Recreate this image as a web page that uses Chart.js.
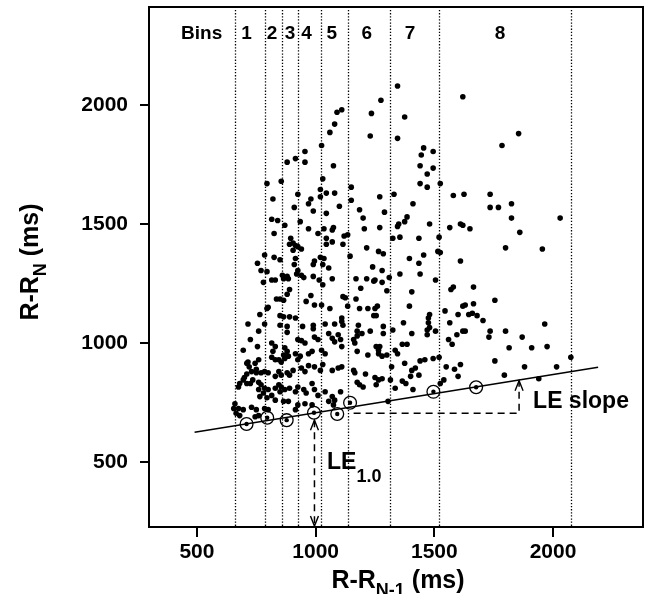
<!DOCTYPE html>
<html>
<head>
<meta charset="utf-8">
<script src="https://cdn.jsdelivr.net/npm/chart.js@4.4.0/dist/chart.umd.min.js"></script>
<style>
  html, body { margin: 0; padding: 0; background: #fff; }
</style>
</head>
<body>
<canvas id="chart_rr" width="645" height="594"></canvas>
<script>
// R-R(N-1) vs R-R(N), in ms
const beatPairs = [
  [1090,1970],[1110,1980],[1080,1920],[1060,1885],[1025,1830],[955,1805],[915,1775],[880,1760],[955,1760],[1075,1745],
  [1030,1690],[795,1670],[855,1680],[1020,1645],[1045,1630],[1080,1630],[925,1625],[1020,1615],[820,1605],[980,1605],
  [1150,1655],[1345,2080],[1275,2020],[1235,1965],[1375,1950],[1620,2035],[1230,1870],[1345,1860],[1855,1880],[1785,1830],
  [1455,1820],[1495,1805],[1445,1790],[1440,1745],[1495,1735],[1470,1710],[1440,1670],[1470,1655],[1525,1670],[1270,1615],
  [1330,1625],[1580,1620],[1625,1625],[1735,1625],[1150,1600],[970,1585],[1100,1575],[910,1570],[990,1555],[1045,1545],
  [1185,1560],[1290,1550],[815,1520],[840,1515],[935,1510],[870,1495],[825,1460],[970,1480],[1035,1480],[1070,1475],
  [1075,1485],[1200,1525],[1205,1480],[1270,1485],[1345,1490],[1010,1460],[1135,1455],[1120,1450],[1045,1440],[895,1440],
  [1045,1415],[1070,1425],[1115,1415],[1215,1400],[1325,1440],[1355,1445],[890,1415],[905,1420],[915,1410],[925,1405],
  [940,1395],[905,1390],[785,1370],[825,1360],[850,1350],[915,1355],[1020,1360],[1035,1355],[1145,1365],[1265,1385],
  [1285,1375],[755,1335],[910,1330],[990,1330],[995,1345],[1030,1330],[1055,1315],[1240,1320],[1280,1305],[770,1305],
  [795,1300],[925,1305],[920,1290],[940,1285],[950,1275],[990,1280],[860,1285],[880,1280],[885,1270],[865,1270],
  [815,1265],[830,1265],[1070,1270],[1015,1265],[1170,1270],[1215,1270],[1250,1265],[1310,1275],[1355,1290],[1410,1585],
  [1735,1570],[1770,1570],[1825,1585],[1825,1525],[2030,1525],[1385,1530],[1375,1510],[1350,1500],[1480,1500],[1565,1485],
  [1610,1500],[1620,1495],[1650,1480],[1860,1465],[1435,1440],[1520,1445],[1800,1400],[1955,1395],[1395,1355],[1435,1335],
  [1455,1370],[1515,1385],[1525,1380],[1610,1345],[1440,1290],[1505,1265],[1245,1260],[1280,1255],[1190,1230],[1300,1220],
  [1405,1215],[1580,1235],[1570,1225],[1665,1235],[1170,1185],[1395,1155],[1185,1145],[1220,1145],[1250,1145],[1260,1155],
  [1245,1115],[1255,1115],[1480,1120],[1475,1105],[1545,1135],[1600,1120],[1620,1155],[1630,1160],[1645,1120],[1665,1165],
  [1755,1180],[1660,1125],[1680,1115],[1705,1095],[890,1225],[880,1205],[980,1200],[850,1185],[835,1185],[865,1180],
  [960,1175],[995,1160],[1025,1160],[1060,1145],[800,1150],[795,1145],[765,1120],[850,1115],[865,1110],[890,1110],
  [915,1105],[1115,1195],[1125,1190],[1135,1155],[1110,1105],[1030,1245],[780,1255],[715,1080],[785,1080],[850,1075],
  [880,1070],[945,1070],[990,1075],[990,1060],[1040,1080],[1080,1080],[1115,1075],[1110,1090],[760,1050],[725,1015],
  [880,1045],[940,1010],[955,1000],[925,1015],[995,1025],[1010,1015],[1055,1040],[1070,1020],[1080,1005],[1095,1035],
  [1105,1015],[815,1000],[830,985],[820,965],[755,985],[695,970],[870,980],[880,965],[865,950],[915,955],
  [935,945],[925,930],[970,955],[985,965],[1025,970],[1040,955],[1110,985],[815,940],[830,930],[845,930],
  [855,920],[870,935],[885,945],[715,920],[745,915],[750,890],[730,880],[710,870],[700,855],[770,875],
  [785,880],[800,875],[830,860],[845,880],[855,865],[880,875],[890,865],[905,885],[940,895],[955,880],
  [970,905],[995,900],[1020,885],[1030,910],[1070,885],[1095,895],[1110,900],[725,830],[680,830],[675,815],
  [760,835],[770,825],[785,810],[800,805],[760,805],[780,790],[765,775],[795,770],[815,780],[830,760],
  [845,825],[855,815],[870,805],[850,795],[830,810],[890,810],[915,795],[925,815],[950,805],[960,790],
  [985,830],[995,805],[1010,780],[1040,795],[1070,775],[1080,760],[1105,795],[660,745],[675,725],[695,720],
  [665,705],[730,730],[750,720],[760,695],[745,690],[865,755],[885,755],[915,720],[925,740],[955,745],
  [985,740],[1055,755],[1075,740],[785,725],[800,720],[655,725],[680,695],[710,915],[720,900],[760,930],
  [750,875],[735,845],[695,845],[710,830],[1165,1000],[1175,965],[1220,950],[1175,1030],[1160,1015],[1180,1075],
  [1175,1050],[1195,1040],[1230,1050],[1285,1070],[1285,1040],[1255,985],[1270,985],[1265,970],[1265,955],[1280,945],
  [1300,950],[1335,970],[1345,955],[1365,995],[1385,995],[1325,1055],[1370,1085],[1405,1040],[1475,1085],[1480,1065],
  [1470,1055],[1470,1035],[1505,1050],[1565,1085],[1560,1015],[1575,995],[1595,1035],[1620,1050],[1630,1050],[1160,885],
  [1165,875],[1175,835],[1185,825],[1200,815],[1210,870],[1250,855],[1265,845],[1280,850],[1255,825],[1320,900],
  [1315,845],[1335,810],[1375,915],[1405,885],[1420,895],[1365,840],[1380,830],[1400,860],[1435,865],[1410,805],
  [1440,925],[1460,930],[1495,935],[1520,940],[1550,900],[1585,890],[1610,910],[1600,860],[1540,845],[1525,830],
  [1305,755],[1735,1050],[1730,1025],[1800,1050],[1870,1025],[1965,1080],[1815,980],[1910,980],[1975,985],[1755,925],
  [2075,940],[1795,865],[1880,900],[2015,900],[1940,850]
];

// lower envelope points, one per bin
const leX = [709, 796, 878, 993, 1091, 1145, 1496, 1676];
const leY = [660, 686, 676, 707, 702, 749, 795, 814];

// fitted LE line
const fitX = [490, 2190];
const fitY = [625, 898];

const binEdges = [661, 787, 857, 926, 1021, 1138, 1315, 1519, 2075];
const binLabels = ["Bins", "1", "2", "3", "4", "5", "6", "7", "8"];
const binLabelX = [520, 709, 816, 892, 962, 1068, 1215, 1398, 1777];
const binLabelY = 2300;

const axisTicks = [500, 1000, 1500, 2000];
const xRange = [298, 2379];
const yRange = [227, 2412];

// LE1.0 marker and LE slope marker
const le10X = 995;
const le10Top = 676;
const slopeX = 1857;
const slopeBase = 705;
const slopeTop = 842;
const slopeDashFrom = 1160;

const FONT = '"Liberation Sans", Arial, sans-serif';

function richWidth(ctx, parts) {
  let w = 0;
  parts.forEach(function (p) {
    ctx.font = 'bold ' + p[1] + 'px ' + FONT;
    w += ctx.measureText(p[0]).width;
  });
  return w;
}

function drawRich(ctx, parts, x, y) {
  let cx = x;
  parts.forEach(function (p) {
    ctx.font = 'bold ' + p[1] + 'px ' + FONT;
    ctx.fillText(p[0], cx, y + p[2]);
    cx += ctx.measureText(p[0]).width;
  });
}

function chevron(ctx, x, y, dir) {
  ctx.beginPath();
  ctx.moveTo(x - 4, y + dir * 10);
  ctx.lineTo(x, y);
  ctx.lineTo(x + 4, y + dir * 10);
  ctx.stroke();
}

const decorPlugin = {
  id: 'decor',
  beforeDatasetsDraw: function (chart) {
    const ctx = chart.ctx;
    const xs = chart.scales.x;
    const area = chart.chartArea;
    ctx.save();
    // bin boundaries
    ctx.strokeStyle = '#000';
    ctx.lineWidth = 1.3;
    ctx.setLineDash([1.3, 1.8]);
    binEdges.forEach(function (v) {
      const px = Math.round(xs.getPixelForValue(v)) + 0.5;
      ctx.beginPath();
      ctx.moveTo(px, area.top + 3);
      ctx.lineTo(px, area.bottom);
      ctx.stroke();
    });
    ctx.setLineDash([]);
    // frame top + right
    ctx.lineWidth = 2;
    ctx.beginPath();
    ctx.moveTo(area.left, area.top);
    ctx.lineTo(area.right, area.top);
    ctx.lineTo(area.right, area.bottom);
    ctx.stroke();
    ctx.restore();
  },
  afterDatasetsDraw: function (chart) {
    const ctx = chart.ctx;
    const xs = chart.scales.x;
    const ys = chart.scales.y;
    ctx.save();
    ctx.fillStyle = '#000';
    ctx.strokeStyle = '#000';
    ctx.lineWidth = 1.4;

    // arrowheads
    chevron(ctx, xs.getPixelForValue(le10X), ys.getPixelForValue(le10Top), 1);
    chevron(ctx, xs.getPixelForValue(le10X), ys.getPixelForValue(yRange[0]) - 1, -1);
    chevron(ctx, xs.getPixelForValue(slopeX), ys.getPixelForValue(slopeTop), 1);

    // bin labels
    ctx.textAlign = 'center';
    ctx.textBaseline = 'middle';
    ctx.font = 'bold 19px ' + FONT;
    binLabels.forEach(function (t, i) {
      ctx.fillText(t, xs.getPixelForValue(binLabelX[i]), ys.getPixelForValue(binLabelY));
    });

    // annotations
    ctx.textAlign = 'left';
    ctx.textBaseline = 'alphabetic';
    ctx.font = 'bold 23px ' + FONT;
    ctx.fillText('LE slope', xs.getPixelForValue(1916), ys.getPixelForValue(727));
    drawRich(ctx, [['LE', 23, 0], ['1.0', 18, 13]], xs.getPixelForValue(1048), ys.getPixelForValue(471));

    // axis titles
    const xt = [['R-R', 25, 0], ['N-1', 18, 8], [' (ms)', 25, 0]];
    const xw = richWidth(ctx, xt);
    drawRich(ctx, xt, 398 - xw / 2, 588);

    const yt = [['R-R', 25, 0], ['N', 18, 8], [' (ms)', 25, 0]];
    const yw = richWidth(ctx, yt);
    ctx.translate(38, 262);
    ctx.rotate(-Math.PI / 2);
    drawRich(ctx, yt, -yw / 2, 0);
    ctx.restore();
  }
};

const tickFont = { family: FONT, size: 21, weight: 'bold' };
const plainTick = function (v) { return String(v); };
const fixedTicks = function (s) { s.ticks = axisTicks.map(function (v) { return { value: v }; }); };

new Chart(document.getElementById('chart_rr'), {
  type: 'scatter',
  data: {
    datasets: [
      {
        data: beatPairs.map(function (p) { return { x: p[0], y: p[1] }; }),
        pointRadius: 2.8,
        pointBackgroundColor: '#000',
        pointBorderWidth: 0,
      },
      {
        data: leX.map(function (v, i) { return { x: v, y: leY[i] }; }),
        pointRadius: 6.4,
        pointBackgroundColor: 'rgba(0,0,0,0)',
        pointBorderColor: '#000',
        pointBorderWidth: 1.3,
      },
      {
        data: leX.map(function (v, i) { return { x: v, y: leY[i] }; }),
        pointRadius: 2.2,
        pointBackgroundColor: '#000',
        pointBorderWidth: 0,
      },
      {
        type: 'line',
        data: fitX.map(function (v, i) { return { x: v, y: fitY[i] }; }),
        borderColor: '#000',
        borderWidth: 1.6,
        pointRadius: 0,
        fill: false,
      },
      {
        type: 'line',
        data: [{ x: le10X, y: le10Top }, { x: le10X, y: yRange[0] }],
        borderColor: '#000',
        borderWidth: 1.5,
        borderDash: [7, 5],
        pointRadius: 0,
        fill: false,
      },
      {
        type: 'line',
        data: [{ x: slopeDashFrom, y: slopeBase }, { x: slopeX, y: slopeBase }, { x: slopeX, y: slopeTop }],
        borderColor: '#000',
        borderWidth: 1.5,
        borderDash: [7, 5],
        pointRadius: 0,
        fill: false,
      },
    ],
  },
  options: {
    responsive: false,
    animation: false,
    devicePixelRatio: 1,
    layout: { autoPadding: false, padding: { top: 7, right: 2, left: 0, bottom: 0 } },
    plugins: {
      legend: false,
      tooltip: { enabled: false },
    },
    scales: {
      x: {
        type: 'linear',
        min: xRange[0],
        max: xRange[1],
        afterFit: function (s) { s.height = 67; s.paddingLeft = 0; s.paddingRight = 0; },
        afterBuildTicks: fixedTicks,
        grid: { display: true, drawOnChartArea: false, drawTicks: true, tickLength: 10, color: '#000', lineWidth: 2 },
        border: { display: true, color: '#000', width: 2 },
        ticks: { font: tickFont, color: '#000', padding: 3, maxRotation: 0, callback: plainTick },
      },
      y: {
        type: 'linear',
        min: yRange[0],
        max: yRange[1],
        afterFit: function (s) { s.width = 149; s.paddingTop = 0; s.paddingBottom = 0; },
        afterBuildTicks: fixedTicks,
        grid: { display: true, drawOnChartArea: false, drawTicks: true, tickLength: 9, color: '#000', lineWidth: 2 },
        border: { display: true, color: '#000', width: 2 },
        ticks: { font: tickFont, color: '#000', padding: 12, callback: plainTick },
      },
    },
  },
  plugins: [decorPlugin],
});
</script>
</body>
</html>
